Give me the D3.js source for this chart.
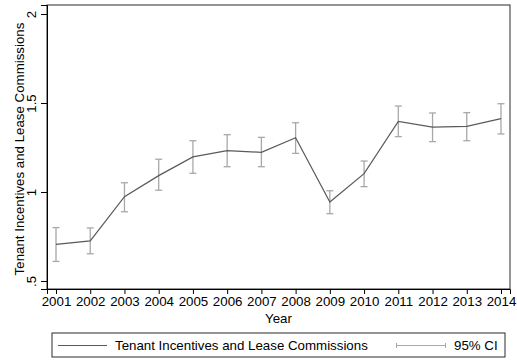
<!DOCTYPE html>
<html>
<head>
<meta charset="utf-8">
<script src="https://cdn.jsdelivr.net/npm/d3@7"></script>
<style>
  html, body { margin: 0; padding: 0; background: #fff; }
  svg { display: block; font-family: "Liberation Sans", Arial, Helvetica, sans-serif; }
</style>
</head>
<body>
<svg id="chart" width="517" height="360"></svg>
<script>
// Yearly point estimates with 95% confidence bounds
const years = [2001, 2002, 2003, 2004, 2005, 2006, 2007, 2008, 2009, 2010, 2011, 2012, 2013, 2014];
const estimate = [0.706, 0.725, 0.974, 1.092, 1.197, 1.232, 1.223, 1.305, 0.944, 1.103, 1.397, 1.365, 1.369, 1.412];
const ciLow  = [0.610, 0.653, 0.889, 1.010, 1.105, 1.142, 1.142, 1.217, 0.878, 1.030, 1.311, 1.283, 1.288, 1.326];
const ciHigh = [0.800, 0.798, 1.052, 1.184, 1.288, 1.322, 1.307, 1.389, 1.007, 1.174, 1.483, 1.444, 1.446, 1.496];
const yTicks = [0.5, 1, 1.5, 2];
const yTickLabels = [".5", "1", "1.5", "2"];
const seriesName = "Tenant Incentives and Lease Commissions";
const ciName = "95% CI";
const xTitle = "Year";

const svg = d3.select("#chart");
const plot = { left: 47, right: 510, top: 5, bottom: 289 };

const x = d3.scaleLinear()
  .domain([2000.737, 2014.263])
  .range([plot.left, plot.right]);
const y = d3.scaleLinear()
  .domain([0.455, 2.0506])
  .range([plot.bottom, plot.top]);

const lineColor = "#5a5a5a";
const ciColor = "#a8a8a8";

// plot frame
svg.append("rect")
  .attr("x", plot.left).attr("y", plot.top)
  .attr("width", plot.right - plot.left).attr("height", plot.bottom - plot.top)
  .attr("fill", "none").attr("stroke", "#2a2a2a").attr("stroke-width", 1);

// x axis
const xAxis = d3.axisBottom(x).tickValues(years).tickFormat(d3.format("d")).tickSize(5).tickPadding(3);
const gx = svg.append("g").attr("transform", `translate(0,${plot.bottom})`).call(xAxis);
gx.select(".domain").attr("stroke", "#000");
gx.selectAll(".tick line").attr("stroke", "#000");
gx.selectAll(".tick text").attr("fill", "#000").attr("font-size", 13.3).attr("font-family", "Liberation Sans, Arial, sans-serif");

// y axis with rotated labels
const yAxis = d3.axisLeft(y).tickValues(yTicks).tickFormat((d, i) => yTickLabels[i]).tickSize(6);
const gy = svg.append("g").attr("transform", `translate(${plot.left},0)`).call(yAxis);
gy.select(".domain").attr("stroke", "#000");
gy.selectAll(".tick line").attr("stroke", "#000");
gy.selectAll(".tick text")
  .attr("fill", "#000").attr("font-size", 13.3).attr("font-family", "Liberation Sans, Arial, sans-serif")
  .attr("x", null).attr("dy", null)
  .attr("text-anchor", "middle")
  .attr("transform", "translate(-11,0) rotate(-90)");

// axis titles
svg.append("text")
  .attr("x", (plot.left + plot.right) / 2).attr("y", 322.5)
  .attr("text-anchor", "middle").attr("font-size", 13.3).attr("fill", "#000")
  .text(xTitle);
svg.append("text")
  .attr("transform", `translate(24,${(plot.top + plot.bottom) / 2 + 2}) rotate(-90)`)
  .attr("text-anchor", "middle").attr("font-size", 13.3).attr("fill", "#000")
  .text(seriesName);

// confidence interval bars
const capHalf = 3.5;
const ci = svg.append("g").attr("stroke", ciColor).attr("stroke-width", 1.3).attr("fill", "none");
years.forEach((yr, i) => {
  const cx = x(yr);
  ci.append("line").attr("x1", cx).attr("x2", cx).attr("y1", y(ciLow[i])).attr("y2", y(ciHigh[i]));
  ci.append("line").attr("x1", cx - capHalf).attr("x2", cx + capHalf).attr("y1", y(ciLow[i])).attr("y2", y(ciLow[i]));
  ci.append("line").attr("x1", cx - capHalf).attr("x2", cx + capHalf).attr("y1", y(ciHigh[i])).attr("y2", y(ciHigh[i]));
});

// estimate line
const line = d3.line().x((d, i) => x(years[i])).y(d => y(d));
svg.append("path").datum(estimate)
  .attr("d", line).attr("fill", "none").attr("stroke", lineColor).attr("stroke-width", 1.2);

// legend
const legend = svg.append("g");
legend.append("rect")
  .attr("x", 52).attr("y", 333).attr("width", 453).attr("height", 24)
  .attr("fill", "#fff").attr("stroke", "#2a2a2a").attr("stroke-width", 1);
legend.append("line")
  .attr("x1", 58).attr("x2", 107).attr("y1", 345.5).attr("y2", 345.5)
  .attr("stroke", lineColor).attr("stroke-width", 1.2);
legend.append("text")
  .attr("x", 115).attr("y", 350).attr("font-size", 13.3).attr("fill", "#000")
  .text(seriesName);
const lg = legend.append("g").attr("stroke", ciColor).attr("stroke-width", 1.1);
lg.append("line").attr("x1", 396).attr("x2", 446).attr("y1", 345.5).attr("y2", 345.5);
lg.append("line").attr("x1", 396.5).attr("x2", 396.5).attr("y1", 343).attr("y2", 348);
lg.append("line").attr("x1", 445.5).attr("x2", 445.5).attr("y1", 343).attr("y2", 348);
legend.append("text")
  .attr("x", 454).attr("y", 350).attr("font-size", 13.3).attr("fill", "#000")
  .text(ciName);
</script>
</body>
</html>
